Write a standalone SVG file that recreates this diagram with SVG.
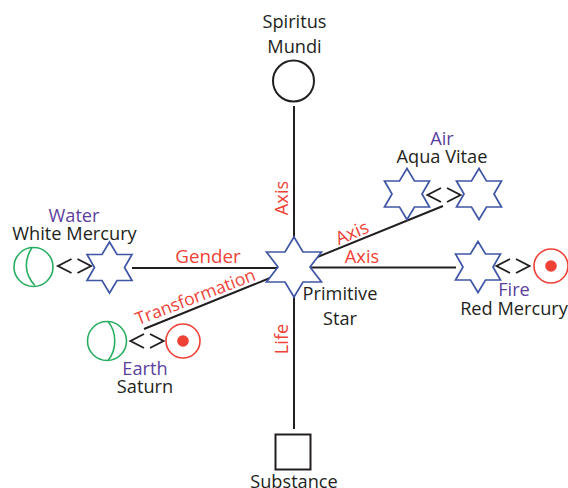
<svg xmlns="http://www.w3.org/2000/svg" width="568" height="488" viewBox="0 0 568 488">
<defs>
<style>
text{font-family:"Open Sans","Liberation Sans",sans-serif;font-size:18.2px;text-anchor:middle}
.k{fill:#231f20}.r{fill:#ef4136}.p{fill:#5b3f9e}
.ln{stroke:#231f20;stroke-width:2;fill:none}
.st{fill:#fff;stroke:#3f55a5;stroke-width:1.7}
.g{fill:#fff;stroke:#27ae60;stroke-width:1.6}
.o{fill:#fff;stroke:#ef4136;stroke-width:1.6}
.d{fill:#ef4136}
.a{stroke:#231f20;stroke-width:1.9;fill:none}
</style>
<polygon id="star" points="0,-25.5 7.5,-13 22.5,-13 15,0 22.5,13 7.5,13 0,25.5 -7.5,13 -22.5,13 -15,0 -22.5,-13 -7.5,-13"/>
<polygon id="bigstar" points="0,-30 9,-15 27.5,-15 16,0 27.5,15 9,15 0,30 -9,15 -27.5,15 -16,0 -27.5,-15 -9,-15"/>
<g id="ne"><path class="a" d="M-3,-7 L-16.5,0 L-3,7 M3,-7 L16.5,0 L3,7"/></g>
<g id="sun"><circle class="o" r="17"/><circle class="d" r="5.8"/></g>
</defs>
<g id="connectors">
<path class="ln" d="M294,106V237M294,297V429M132,268H278M310,267.500H456M315,258L443,206M144,329L270,278"/>
</g>
<g id="spiritus"><circle cx="293.500" cy="81" r="20.500" fill="#fff" stroke="#231f20" stroke-width="2"/><text class="k" x="294.500" y="28">Spiritus</text><text class="k" x="294.500" y="53">Mundi</text></g>
<g id="primitive"><use href="#bigstar" class="st" x="294" y="267"/><text class="k" x="340" y="300">Primitive</text><text class="k" x="340" y="325">Star</text></g>
<g id="substance"><rect x="275.500" y="434.500" width="35" height="35" fill="#fff" stroke="#231f20" stroke-width="2"/><text class="k" x="294" y="488">Substance</text></g>
<g id="water"><circle class="g" cx="33.500" cy="267" r="19.500"/><path class="g" style="fill:none" d="M32,247.500C24,260 24,274 35,285.500"/><use href="#ne" x="74.500" y="266"/><use href="#star" class="st" x="109.500" y="267.500"/><text class="p" x="74" y="222">Water</text><text class="k" x="74.500" y="240">White Mercury</text></g>
<g id="earth"><circle class="g" cx="107" cy="341" r="19.500"/><path class="g" style="fill:none" d="M108,321.500C117,332 117,350 108,360.500"/><use href="#ne" x="147" y="341"/><use href="#sun" x="183" y="341"/><text class="p" x="145" y="375">Earth</text><text class="k" x="145" y="393">Saturn</text></g>
<g id="air"><use href="#star" class="st" x="407" y="194"/><use href="#ne" x="444" y="195"/><use href="#star" class="st" x="479" y="194"/><text class="p" x="442" y="145">Air</text><text class="k" x="442" y="163">Aqua Vitae</text></g>
<g id="fire"><use href="#star" class="st" x="478" y="267"/><use href="#ne" x="513" y="266"/><use href="#sun" x="551" y="266"/><text class="p" x="514" y="296">Fire</text><text class="k" x="514" y="315">Red Mercury</text></g>
<g id="labels">
<text class="r" x="208" y="263" style="font-size:18.800px">Gender</text>
<text class="r" x="362" y="263">Axis</text>
<text class="r" transform="translate(288,198) rotate(-90)">Axis</text>
<text class="r" transform="translate(288,339) rotate(-90)">Life</text>
<text class="r" transform="translate(354.500,238.500) rotate(-23)">Axis</text>
<text class="r" style="font-size:17.500px" transform="translate(197.500,302.500) rotate(-21)">Transformation</text>
</g>
</svg>
